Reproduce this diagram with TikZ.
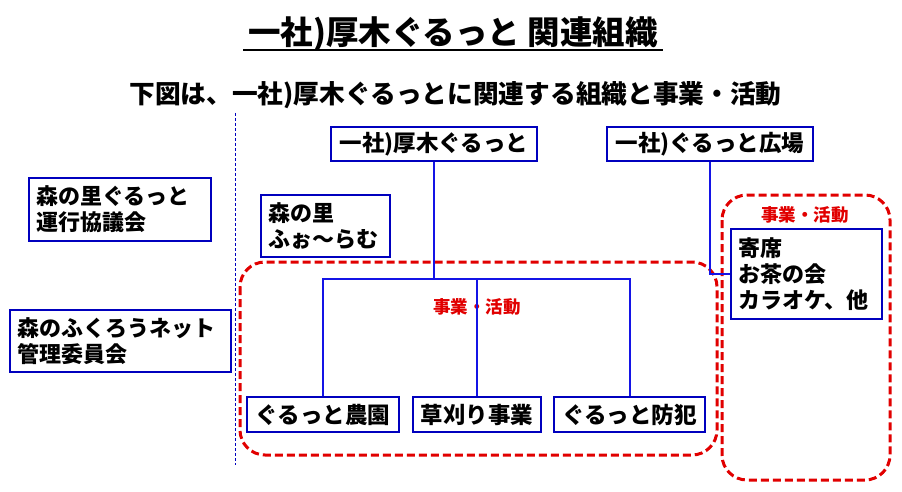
\documentclass[tikz,border=0pt]{standalone}
\usepackage{fontspec}
\setmainfont{Noto Sans CJK JP}
\definecolor{boxblue}{RGB}{0,0,190}
\definecolor{lineblue}{RGB}{20,20,230}
\definecolor{dashred}{RGB}{225,0,0}
\tikzset{
  orgbox/.style={draw=boxblue, line width=2.4pt, fill=white, inner sep=0pt,
    font=\bfseries\fontsize{22.5}{26}\selectfont, text=black},
  multibox/.style={orgbox, font=\bfseries\fontsize{22}{26}\selectfont, align=left, text width=#1, inner xsep=7pt},
  conn/.style={draw=lineblue, line width=2pt},
  groupbox/.style={draw=dashred, line width=3pt, dash pattern=on 8pt off 4pt, rounded corners=25pt},
  redlabel/.style={text=dashred, font=\bfseries\fontsize{17.5}{20}\selectfont, inner sep=0pt},
  sepline/.style={draw=boxblue, line width=0.8pt, dash pattern=on 3pt off 2pt}
}
\begin{document}
\begin{tikzpicture}[x=1pt,y=-1pt]
\useasboundingbox[fill=white] (0,0) rectangle (902,492);
% title
\node[inner sep=0pt, font=\bfseries\fontsize{32.5}{36}\selectfont] (title) at (453,34) {一社)厚木ぐるっと 関連組織};
\coordinate (ul1) at (243,50);
\coordinate (ul2) at (663,50);
\draw[line width=2.5pt] (ul1) -- (ul2);
\node[inner sep=0pt, font=\bfseries\fontsize{25.7}{28}\selectfont] (sub) at (455.5,95) {下図は、一社)厚木ぐるっとに関連する組織と事業・活動};
% separator
\coordinate (d1) at (235,113);
\coordinate (d2) at (235,465);
\draw[sepline] (d1) -- (d2);
% group boxes
\draw[groupbox] (240,262) rectangle (717,455);
\draw[groupbox] (722,195) rectangle (890,480);
% nodes
\node[orgbox, minimum width=206pt, minimum height=34pt] (atsugi) at (434,144) {一社)厚木ぐるっと};
\node[orgbox, minimum width=206pt, minimum height=34pt] (hiroba) at (710,144) {一社)ぐるっと広場};
\node[multibox=168pt, minimum height=63pt] (unko) at (120,209.5) {森の里ぐるっと\\運行協議会};
\node[multibox=207pt, minimum height=62pt] (kanri) at (120.5,341) {森のふくろうネット\\管理委員会};
\node[multibox=115pt, minimum height=62pt] (forum) at (325.5,226) {森の里\\ふぉ～らむ};
\node[multibox=137pt, minimum height=90pt] (yose) at (806.5,274) {寄席\\お茶の会\\カラオケ、他};
\node[orgbox, minimum width=152pt, minimum height=35pt] (noen) at (323,414.5) {ぐるっと農園};
\node[orgbox, minimum width=128pt, minimum height=35pt] (kusakari) at (477,414.5) {草刈り事業};
\node[orgbox, minimum width=151pt, minimum height=35pt] (bohan) at (629.5,414.5) {ぐるっと防犯};
% labels
\node[redlabel] (lab1) at (477,307) {事業・活動};
\node[redlabel] (lab2) at (805,215) {事業・活動};
% connectors
\coordinate (j) at (434,279);
\draw[conn] (atsugi.south) -- (j);
\draw[conn] (noen.north) |- (j) -| (bohan.north);
\draw[conn] (kusakari.north) -- (kusakari.north |- j);
\draw[conn] (hiroba.south) |- (yose.west);
\end{tikzpicture}
\end{document}
